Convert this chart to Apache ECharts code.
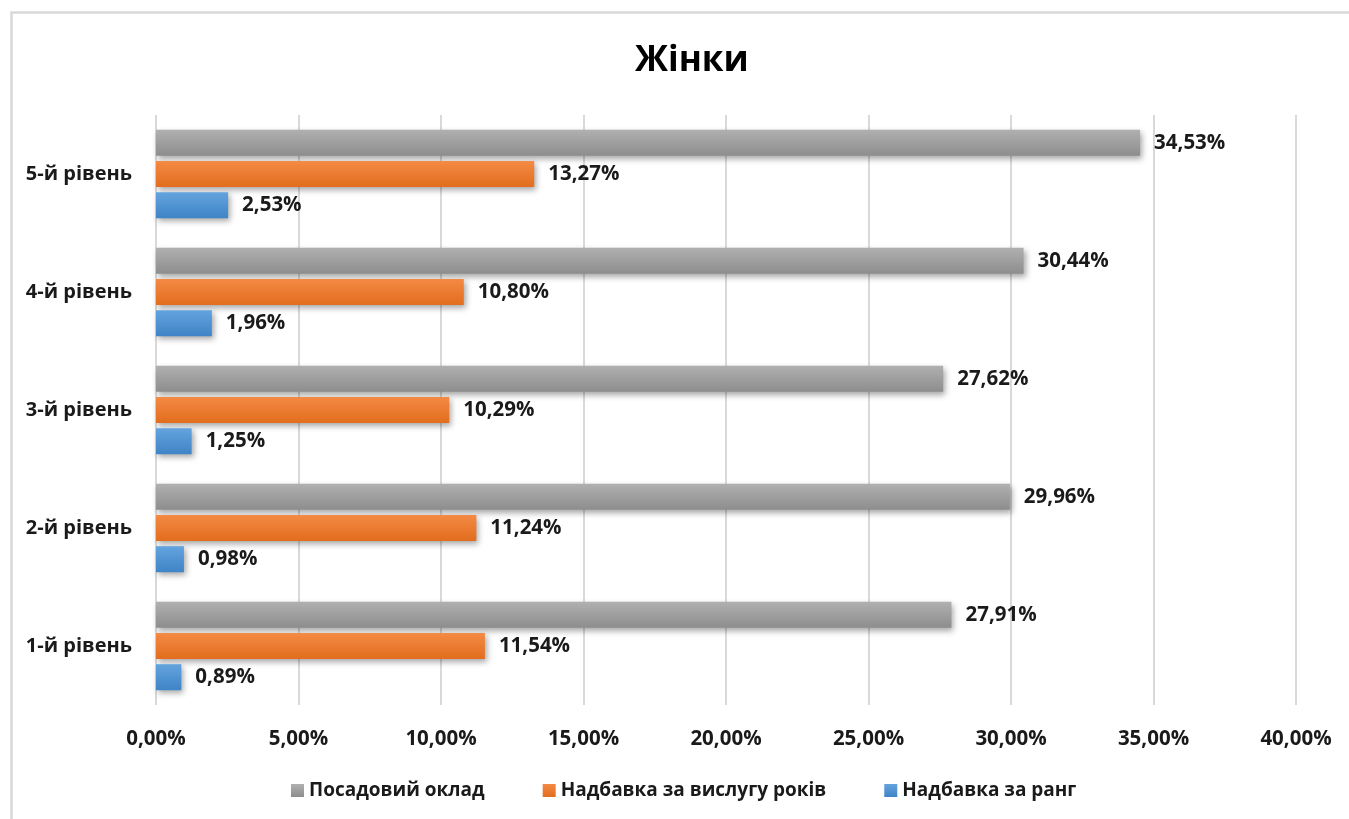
<!DOCTYPE html>
<html>
<head>
<meta charset="utf-8">
<script src="https://cdn.jsdelivr.net/npm/echarts@6/dist/echarts.min.js"></script>
<style>
  html, body { margin: 0; padding: 0; background: #fff; }
  #chart { width: 1349px; height: 819px; }
</style>
</head>
<body>
<div id="chart"></div>
<script>
const levels = ['1-й рівень', '2-й рівень', '3-й рівень', '4-й рівень', '5-й рівень'];
const salary = [27.91, 29.96, 27.62, 30.44, 34.53];     // Посадовий оклад
const seniority = [11.54, 11.24, 10.29, 10.80, 13.27];  // Надбавка за вислугу років
const rank = [0.89, 0.98, 1.25, 1.96, 2.53];            // Надбавка за ранг
const xTicks = [0, 5, 10, 15, 20, 25, 30, 35, 40];

const FONT = '"Open Sans", "Noto Sans", sans-serif';

function pct(v) {
  return v.toFixed(2).replace('.', ',') + '%';
}

function grad(top, bottom) {
  return new echarts.graphic.LinearGradient(0, 0, 0, 1, [
    { offset: 0, color: top },
    { offset: 1, color: bottom }
  ]);
}

function barSeries(name, data, top, bottom) {
  return {
    name: name,
    type: 'bar',
    data: data,
    barWidth: 26,
    barGap: '20%',
    itemStyle: {
      color: grad(top, bottom),
      shadowColor: 'rgba(0,0,0,0.35)',
      shadowBlur: 6,
      shadowOffsetX: 2,
      shadowOffsetY: 3
    },
    label: {
      show: true,
      position: 'right',
      distance: 14,
      formatter: p => pct(p.value),
      color: '#1a1a1a',
      fontFamily: FONT,
      fontWeight: 'bold',
      fontSize: 20.5
    }
  };
}

const chart = echarts.init(document.getElementById('chart'));

const option = {
  backgroundColor: '#ffffff',
  animation: false,
  graphic: [{
    type: 'rect',
    left: 9,
    top: 10,
    shape: { width: 1400, height: 900 },
    style: { fill: 'none', stroke: '#d9d9d9', lineWidth: 2.5 },
    silent: true
  }],
  title: {
    text: 'Жінки',
    left: 630,
    top: 39,
    textStyle: {
      fontFamily: FONT,
      fontWeight: 'bold',
      fontSize: 35,
      color: '#000'
    }
  },
  legend: {
    data: ['Посадовий оклад', 'Надбавка за вислугу років', 'Надбавка за ранг'],
    left: 286,
    top: 776,
    itemWidth: 13,
    itemHeight: 13,
    itemGap: 58,
    icon: 'rect',
    textStyle: {
      fontFamily: FONT,
      fontWeight: 'bold',
      fontSize: 19,
      color: '#1a1a1a'
    }
  },
  grid: {
    left: 156,
    right: 53,
    top: 115,
    bottom: 114
  },
  xAxis: {
    type: 'value',
    min: xTicks[0],
    max: xTicks[xTicks.length - 1],
    interval: 5,
    axisLine: { show: false },
    axisTick: { show: false },
    splitLine: { lineStyle: { color: '#d9d9d9', width: 2 } },
    axisLabel: {
      margin: 24,
      formatter: v => pct(v),
      color: '#1a1a1a',
      fontFamily: FONT,
      fontWeight: 'bold',
      fontSize: 20.5
    }
  },
  yAxis: {
    type: 'category',
    data: levels,
    axisLine: { show: false },
    axisTick: { show: false },
    axisLabel: {
      margin: 24,
      color: '#1a1a1a',
      fontFamily: FONT,
      fontWeight: 'bold',
      fontSize: 20
    }
  },
  series: [
    barSeries('Посадовий оклад', salary, '#b0b0b0', '#8d8d8d'),
    barSeries('Надбавка за вислугу років', seniority, '#f48a45', '#e26d1e'),
    barSeries('Надбавка за ранг', rank, '#64a3de', '#3f84c6')
  ]
};

chart.setOption(option);
</script>
</body>
</html>
